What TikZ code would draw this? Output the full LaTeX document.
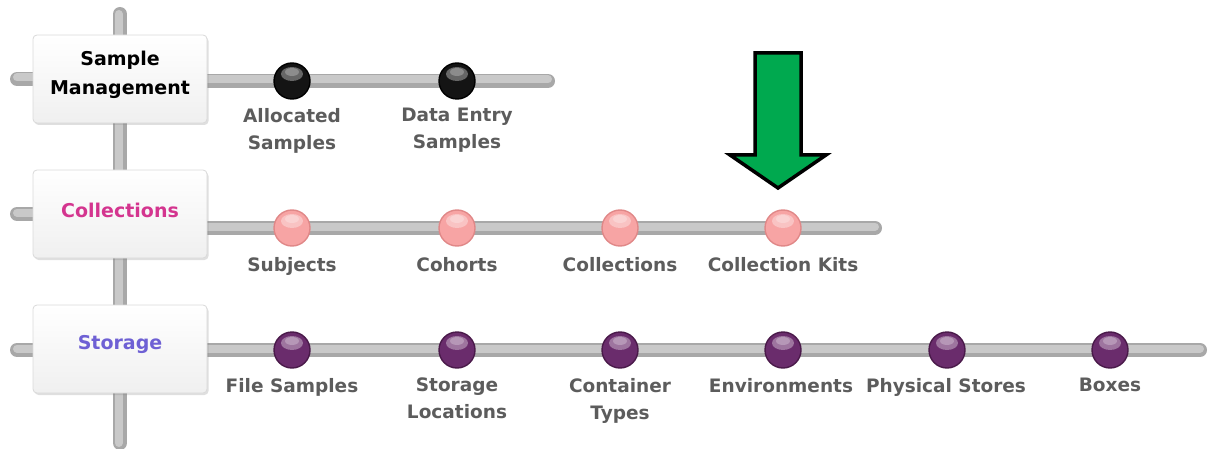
\documentclass[tikz,border=0pt]{standalone}
\usepackage{fontspec}
\setmainfont{DejaVu Sans}
\usetikzlibrary{shadows}
\definecolor{barout}{HTML}{A8A8A8}
\definecolor{barin}{HTML}{C9C9C9}
\definecolor{lbl}{HTML}{5C5C5C}
\definecolor{colltxt}{HTML}{D4358F}
\definecolor{stortxt}{HTML}{6E60D4}
\definecolor{pinkball}{HTML}{F7A4A4}
\definecolor{pinkedge}{HTML}{E08888}
\definecolor{purpball}{HTML}{6A2C6C}
\definecolor{purpedge}{HTML}{4A1A4A}
\definecolor{arrowgreen}{HTML}{00A94F}
\tikzset{
  barline/.style={line width=14pt, barout, line cap=round},
  barhi/.style={line width=8pt, barin, line cap=round},
  menubox/.style={draw=black!15, line width=0.8pt, rounded corners=4pt, top color=white, bottom color=black!6,
    minimum width=174pt, minimum height=88pt, inner sep=0pt,
    drop shadow={opacity=0.25, shadow xshift=1.5pt, shadow yshift=-2pt}},
  boxtxt/.style={font=\fontsize{19}{29}\selectfont\bfseries, align=center},
  ball/.style={circle, minimum size=36pt, inner sep=0pt, line width=1.4pt,
    path picture={\fill[white, opacity=0.35] ([yshift=7pt]path picture bounding box.center) ellipse (11pt and 7pt);
                  \fill[white, opacity=0.25] ([yshift=9pt]path picture bounding box.center) ellipse (7pt and 4pt);}},
  blackball/.style={ball, draw=black, fill=black!92},
  pinkball/.style={ball, draw=pinkedge, fill=pinkball},
  purpball/.style={ball, draw=purpedge, fill=purpball},
  lbltxt/.style={font=\fontsize{18.5}{27}\selectfont\bfseries, text=lbl, align=center, anchor=north, inner sep=0pt},
}
\begin{document}
\begin{tikzpicture}[x=1pt, y=-1pt]
\useasboundingbox (0,0) rectangle (1209,449);
% bar end coordinates
\coordinate (vtop) at (120,14);
\coordinate (vbot) at (120,443);
\coordinate (l1) at (17,79);  \coordinate (m1) at (120,79); \coordinate (r1) at (548,81); \coordinate (s1) at (120,81);
\coordinate (l2) at (17,214); \coordinate (m2) at (120,214); \coordinate (r2) at (875,228); \coordinate (s2) at (120,228);
\coordinate (l3) at (17,350); \coordinate (m3) at (120,350); \coordinate (r3) at (1200,350); \coordinate (s3) at (120,350);
% bars
\foreach \a/\b in {vtop/vbot, l1/m1, s1/r1, l2/m2, s2/r2, l3/m3, s3/r3} {
  \draw[barline] (\a) -- (\b);
}
\draw[barhi] ([xshift=-1.5pt]vtop) -- ([xshift=-1.5pt]vbot);
\foreach \a/\b in {l1/m1, s1/r1, l2/m2, s2/r2, l3/m3, s3/r3} {
  \draw[barhi] ([yshift=1.5pt]\a) -- ([yshift=1.5pt]\b);
}
% boxes
\node[menubox] (b1) at (120,79) {};
\node[boxtxt, text=black] (t1) at (120,75) {Sample\\Management};
\node[menubox] (b2) at (120,214) {};
\node[boxtxt, text=colltxt] (t2) at (120,210) {Collections};
\node[menubox] (b3) at (120,349) {};
\node[boxtxt, text=stortxt] (t3) at (120,344) {Storage};
% row 1
\node[blackball] (a1) at (292,81) {};
\node[blackball] (a2) at (457,81) {};
\node[lbltxt] at (292,108) {Allocated\\Samples};
\node[lbltxt] at (457,108) {Data Entry\\Samples};
% row 2
\node[pinkball] (c1) at (292,228) {};
\node[pinkball] (c2) at (457,228) {};
\node[pinkball] (c3) at (620,228) {};
\node[pinkball] (c4) at (783,228) {};
\node[lbltxt] at (292,257) {Subjects};
\node[lbltxt] at (457,257) {Cohorts};
\node[lbltxt] at (620,257) {Collections};
\node[lbltxt] at (783,257) {Collection Kits};
% row 3
\node[purpball] (p1) at (292,350) {};
\node[purpball] (p2) at (457,350) {};
\node[purpball] (p3) at (620,350) {};
\node[purpball] (p4) at (783,350) {};
\node[purpball] (p5) at (947,350) {};
\node[purpball] (p6) at (1110,350) {};
\node[lbltxt] at (292,378) {File Samples};
\node[lbltxt] at (457,378) {Storage\\Locations};
\node[lbltxt] at (620,378) {Container\\Types};
\node[lbltxt] at (781,378) {Environments};
\node[lbltxt] at (946,378) {Physical Stores};
\node[lbltxt] at (1110,378) {Boxes};
% green arrow
\draw[fill=arrowgreen, draw=black, line width=3.5pt, miter limit=10]
  (755,53) -- (801,53) -- (801,155) -- (826,155) -- (778,188) -- (730,155) -- (755,155) -- cycle;
\end{tikzpicture}
\end{document}
